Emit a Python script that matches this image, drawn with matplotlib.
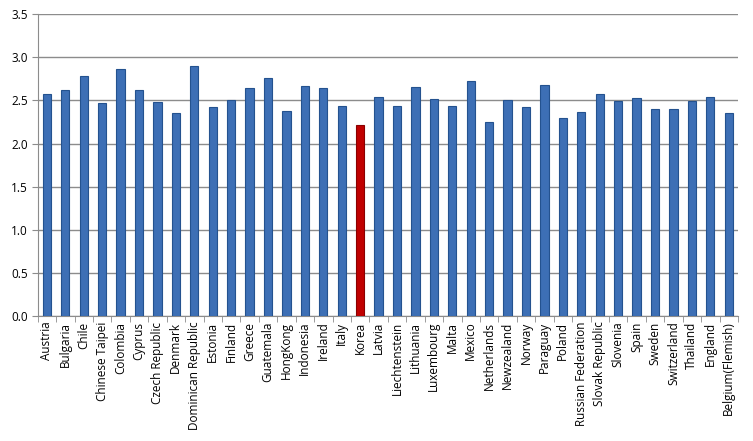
import matplotlib
matplotlib.use("Agg")
import matplotlib.pyplot as plt
import numpy as np

countries = ["Austria", "Bulgaria", "Chile", "Chinese Taipei", "Colombia", "Cyprus",
             "Czech Republic", "Denmark", "Dominican Republic", "Estonia", "Finland",
             "Greece", "Guatemala", "HongKong", "Indonesia", "Ireland", "Italy", "Korea",
             "Latvia", "Liechtenstein", "Lithuania", "Luxembourg", "Malta", "Mexico",
             "Netherlands", "Newzealand", "Norway", "Paraguay", "Poland",
             "Russian Federation", "Slovak Republic", "Slovenia", "Spain", "Sweden",
             "Switzerland", "Thailand", "England", "Belgium(Flemish)"]
values = [2.58, 2.62, 2.78, 2.47, 2.86, 2.62, 2.48, 2.355, 2.90, 2.43, 2.50,
          2.65, 2.76, 2.38, 2.67, 2.64, 2.44, 2.22, 2.54, 2.44, 2.66, 2.52, 2.44,
          2.73, 2.25, 2.51, 2.42, 2.68, 2.30, 2.37, 2.58, 2.49, 2.53, 2.405,
          2.40, 2.49, 2.54, 2.35]
highlight = "Korea"

plt.rcParams['font.family'] = ['Open Sans', 'DejaVu Sans']
fig = plt.figure(figsize=(7.53, 4.41), dpi=100)
ax = fig.add_axes([0.050, 0.2834, 0.930, 0.6842])

x = np.arange(len(countries))
colors = ["#c00000" if c == highlight else "#3d6fb5" for c in countries]
edges = ["#8a0000" if c == highlight else "#24528f" for c in countries]
ax.bar(x, values, width=0.45, color=colors, edgecolor=edges, linewidth=0.8, zorder=3)

ax.set_xlim(-0.5, len(countries) - 0.5)
ax.set_ylim(0, 3.5)
ax.set_yticks(np.arange(0, 3.51, 0.5))
ax.set_yticklabels([f"{v:.1f}" for v in np.arange(0, 3.51, 0.5)], fontsize=8.5)
ax.yaxis.grid(True, color="#8c8c8c", linewidth=1.0, zorder=0)
ax.set_axisbelow(True)

ax.set_xticks(x)
ax.set_xticklabels(countries, rotation=90, fontsize=8.5)
ax.tick_params(axis='x', which='major', length=0, pad=4)
ax.set_xticks(np.arange(-0.5, len(countries), 1.0), minor=True)
ax.tick_params(axis='x', which='minor', length=4, color="#8c8c8c", direction='out')
ax.tick_params(axis='y', length=4, color="#8c8c8c", direction='out', pad=3)

for s in ["top", "right"]:
    ax.spines[s].set_visible(False)
for s in ["left", "bottom"]:
    ax.spines[s].set_color("#8c8c8c")

fig.savefig("out.png", dpi=100)
